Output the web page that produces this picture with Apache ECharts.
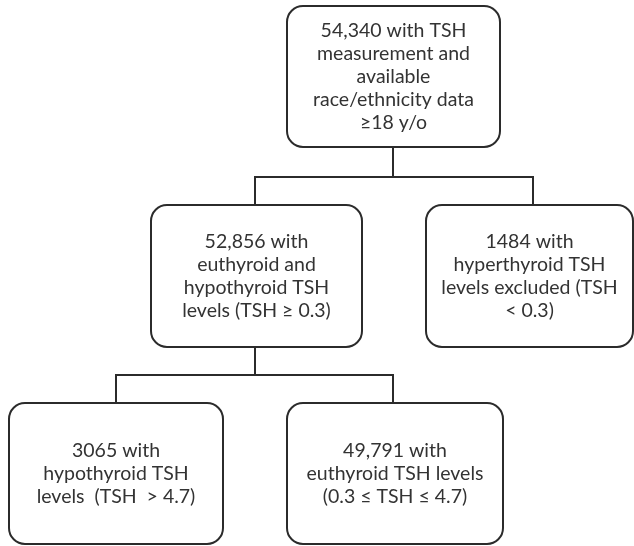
<!DOCTYPE html>
<html>
<head>
<meta charset="utf-8">
<script src="https://cdn.jsdelivr.net/npm/echarts@6/dist/echarts.min.js"></script>
<style>html,body{margin:0;padding:0;background:#fff}#main{width:634px;height:546px}</style>
</head>
<body>
<div id="main"></div>
<script>
// Flowchart content
var nodeIds = ['all', 'euHypo', 'hyper', 'hypo', 'eu'];
var nodeLabels = [
  '54,340 with TSH\nmeasurement and\navailable\nrace/ethnicity data\n≥18 y/o',
  '52,856 with\neuthyroid and\nhypothyroid TSH\nlevels (TSH ≥ 0.3)',
  '1484 with\nhyperthyroid TSH\nlevels excluded (TSH\n< 0.3)',
  '3065 with\nhypothyroid TSH\nlevels  (TSH  > 4.7)',
  '49,791 with\neuthyroid TSH levels\n(0.3 ≤ TSH ≤ 4.7)'
];
var edgesFrom = ['all', 'all', 'euHypo', 'euHypo'];
var edgesTo   = ['euHypo', 'hyper', 'hypo', 'eu'];

// Layout (box left, top, right, bottom, connector x) in chart coordinates
var layout = {
  all:    {l: 287, t: 6,   r: 500, b: 147, cx: 393},
  euHypo: {l: 151, t: 205, r: 362, b: 347, cx: 255},
  hyper:  {l: 426, t: 205, r: 633, b: 347, cx: 533},
  hypo:   {l: 9,   t: 403, r: 223, b: 544, cx: 116},
  eu:     {l: 287, t: 403, r: 503, b: 544, cx: 393}
};
var branchY = {all: 177, euHypo: 375};

var nodeData = nodeIds.map(function (id, i) {
  var b = layout[id];
  return {value: [b.l, b.t, b.r, b.b], name: nodeLabels[i]};
});
var edgeData = edgesFrom.map(function (f, i) {
  var p = layout[f], c = layout[edgesTo[i]];
  return [p.cx, p.b, branchY[f], c.cx, c.t];
});

var chart = echarts.init(document.getElementById('main'));
chart.setOption({
  animation: false,
  backgroundColor: '#ffffff',
  grid: {left: 0, right: 0, top: 0, bottom: 0},
  xAxis: {type: 'value', min: 0, max: 634, show: false},
  yAxis: {type: 'value', min: 0, max: 546, inverse: true, show: false},
  series: [
    {
      type: 'custom',
      data: edgeData,
      renderItem: function (params, api) {
        var p0 = api.coord([api.value(0), api.value(1)]);
        var pm = api.coord([api.value(0), api.value(2)]);
        var pc = api.coord([api.value(3), api.value(2)]);
        var p1 = api.coord([api.value(3), api.value(4)]);
        return {
          type: 'polyline',
          shape: {points: [p0, pm, pc, p1]},
          style: {stroke: '#2b2b2b', lineWidth: 2, fill: null}
        };
      }
    },
    {
      type: 'custom',
      data: nodeData,
      renderItem: function (params, api) {
        var a = api.coord([api.value(0), api.value(1)]);
        var b = api.coord([api.value(2), api.value(3)]);
        var label = nodeLabels[params.dataIndex];
        return {
          type: 'group',
          children: [
            {
              type: 'rect',
              shape: {x: a[0], y: a[1], width: b[0] - a[0], height: b[1] - a[1], r: 16},
              style: {fill: '#ffffff', stroke: '#2b2b2b', lineWidth: 2}
            },
            {
              type: 'text',
              x: (a[0] + b[0]) / 2,
              y: (a[1] + b[1]) / 2,
              style: {
                text: label,
                align: 'center',
                verticalAlign: 'middle',
                fill: '#333333',
                fontSize: 19.5,
                lineHeight: 23,
                fontFamily: 'Lato'
              }
            }
          ]
        };
      }
    }
  ]
});
</script>
</body>
</html>
